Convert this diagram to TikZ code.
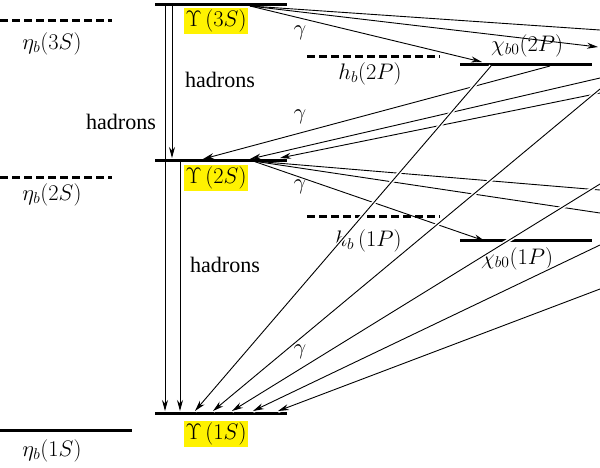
\documentclass[tikz,border=0pt]{standalone}
\usepackage{fontspec}
\setmainfont{Liberation Serif}
\usepackage{graphicx}
\usetikzlibrary{arrows.meta}
\newcommand{\MyBig}[1]{\scalebox{1.3}{#1}}
\begin{document}
\begin{tikzpicture}[x=1pt,y=-1pt,
  lev/.style={line width=3pt},
  dlev/.style={line width=3pt,dash pattern=on 8pt off 4pt},
  tr/.style={line width=0.9pt,-{Stealth[length=11pt,width=6pt]}},
  ln/.style={line width=0.9pt},
  halo/.style={preaction={draw=white,line width=4pt,-}},
  ylab/.style={fill=yellow,inner sep=2pt,font=\fontsize{17}{19}\selectfont},
  lab/.style={font=\fontsize{17}{19}\selectfont},
  txt/.style={font=\fontsize{17}{19}\selectfont},
  gam/.style={font=\fontsize{17}{19}\selectfont}]
\useasboundingbox (0,0) rectangle (600,467);
% levels
\draw[lev] (155,4) coordinate (u3l) -- (287,4) coordinate (u3r);
\draw[lev] (155,160) coordinate (u2l) -- (287,160) coordinate (u2r);
\draw[lev] (155,413) coordinate (u1l) -- (287,413) coordinate (u1r);
\draw[dlev] (0,20) -- (112,20);
\draw[dlev] (0,177) -- (112,177);
\draw[lev] (0,430) -- (132,430);
\draw[dlev] (307,56) -- (440,56);
\draw[dlev] (307,216) -- (440,216);
\draw[lev] (460,64) -- (592,64);
\draw[lev] (460,240) -- (592,240);
% labels
\node[ylab] (l3) at (216,21) {\MyBig{$\Upsilon\,(3S)$}};
\node[ylab] (l2) at (216,178) {\MyBig{$\Upsilon\,(2S)$}};
\node[ylab] (l1) at (216,434) {\MyBig{$\Upsilon\,(1S)$}};
\node[lab] (e3) at (52,44) {\MyBig{$\eta_b(3S)$}};
\node[lab] (e2) at (52,195) {\MyBig{$\eta_b(2S)$}};
\node[lab] (e1) at (52,451) {\MyBig{$\eta_b(1S)$}};
\node[lab] (h2) at (370,74) {\MyBig{$h_b(2P)$}};
\node[lab] (h1) at (368,241) {\MyBig{$h_b\,(1P)$}};
\node[lab] (c2) at (527,46) {\MyBig{$\chi_{b0}(2P)$}};
\node[lab] (c1) at (517,259) {\MyBig{$\chi_{b0}(1P)$}};
\node[txt] (hd1) at (220,80) {\MyBig{hadrons}};
\node[txt] (hd2) at (121,122) {\MyBig{hadrons}};
\node[txt] (hd3) at (225,265) {\MyBig{hadrons}};
\node[gam] (g1) at (300,33) {\MyBig{$\gamma$}};
\node[gam] (g2) at (300,117) {\MyBig{$\gamma$}};
\node[gam] (g3) at (300,187) {\MyBig{$\gamma$}};
\node[gam] (g4) at (300,352) {\MyBig{$\gamma$}};
% coordinates
\coordinate (a) at (250,6);
\coordinate (c2a) at (482,62);
\coordinate (c2b) at (550,66);
\coordinate (c1a) at (485,241);
\coordinate (r1) at (600,30);
\coordinate (r2) at (598,47);
\coordinate (r3) at (600,78);
\coordinate (r4) at (600,93);
\coordinate (b) at (253,161);
\coordinate (r5) at (600,190);
\coordinate (r6) at (600,213);
% hadronic vertical
\draw[tr] (165,6) -- (165,411);
\draw[tr] (172,6) -- (172,158);
\draw[tr] (180,162) -- (180,411);
% from 3S
\draw[tr] (a) -- (c2a);
\draw[ln] (a) -- (r1);
\draw[tr] (a) -- (r2);
% to 2S
\draw[tr] (c2b) -- (203,159);
\draw[tr] (r3) -- (250,159);
\draw[tr] (r4) -- (280,158);
% from 2S
\draw[ln] (b) -- (r5);
\draw[ln] (b) -- (r6);
\draw[tr] (b) -- (c1a);
% to 1S
\draw[tr,halo] (491,66) -- (195,411);
\draw[tr,halo] (600,89) -- (213,411);
\draw[tr,halo] (600,184) -- (232,411);
\draw[tr,halo] (600,245) -- (253,411);
\draw[tr,halo] (600,289) -- (278,411);
\end{tikzpicture}
\end{document}
